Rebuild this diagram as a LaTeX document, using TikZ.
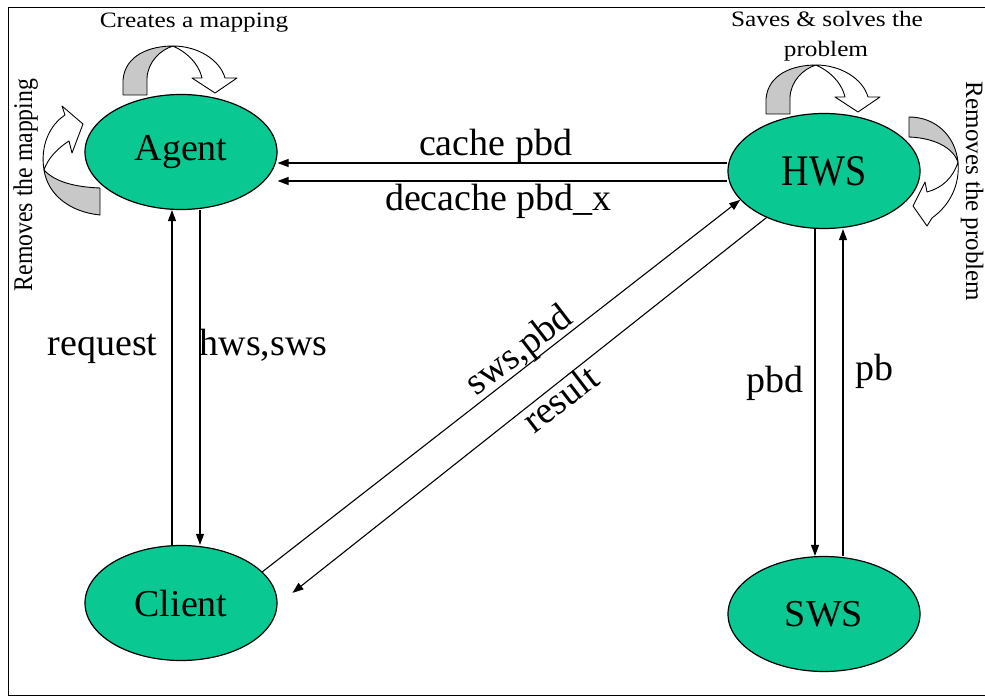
\documentclass[tikz,border=0pt]{standalone}
\usepackage{graphicx}
\usepackage{fontspec}
\setmainfont{Liberation Serif}
\newfontfamily\smallfont[FakeStretch=1.15]{Liberation Serif}
\newfontfamily\sidefont[FakeStretch=0.88]{Liberation Serif}
\usetikzlibrary{arrows.meta,shapes.geometric}
\definecolor{nodegreen}{RGB}{10,200,145}
\definecolor{arrowgray}{RGB}{200,200,200}
\begin{document}
\begin{tikzpicture}[x=1pt,y=-1pt,
  state/.style={ellipse, draw=black, line width=1.2pt, fill=nodegreen, minimum width=192pt, minimum height=115pt, inner sep=0pt, font=\fontsize{38}{40}\selectfont},
  conn/.style={line width=1.1pt, -{Triangle[length=11pt,width=8pt]}},
  lbl/.style={font=\fontsize{38}{40}\selectfont, inner sep=0pt},
  note/.style={font=\smallfont\fontsize{22}{30}\selectfont, inner sep=0pt},
  grayface/.style={fill=arrowgray, draw=black, line width=0.9pt, line join=round},
  whiteface/.style={fill=white, draw=black, line width=0.9pt, line join=round},
  toparrow/.pic={
    \path[grayface] (-57,25) -- (-57,10) .. controls (-55,-15) and (-30,-24) .. (-7,-24) .. controls (-20,-20) and (-32,-8) .. (-33,8) -- (-33,25) -- cycle;
    \path[whiteface] (-7,-24) .. controls (18,-24) and (40,-10) .. (45,8) -- (57,8) -- (35,23) -- (12,8) -- (22,8) .. controls (18,-8) and (6,-18) .. (-7,-24) -- cycle;
  }]
\useasboundingbox (0,0) rectangle (985,698);
\fill[white] (0,0) rectangle (985,698);
\draw[line width=1pt] (8,8) rectangle (985,695.5);

% nodes
\node[state] (Agent) at (181,152) {Agent};
\node[state] (HWS) at (824,171) {\scalebox{1}[1.15]{HWS}};
\node[state] (Client) at (181,603) {Client};
\node[state] (SWS) at (824,614) {SWS};

% connectors
\draw[conn] ([yshift=8pt]HWS.west) -- ([yshift=-11pt]Agent.east);
\draw[conn] ([yshift=-10pt]HWS.west) -- ([yshift=-29pt]Agent.east);
\draw[conn] ([xshift=-9pt]Client.north) -- ([xshift=-9pt]Agent.south);
\draw[conn] ([xshift=19pt]Agent.south) -- ([xshift=19pt]Client.north);
\draw[conn] ([xshift=-9pt]HWS.south) -- ([xshift=-9pt]SWS.north);
\draw[conn] ([xshift=19pt]SWS.north) -- ([xshift=19pt]HWS.south);
\draw[conn] (Client.21.9) -- (HWS.199.7);
\draw[conn, shorten >=19pt] (HWS.219.5) -- (Client.-1.2);

% connector labels
\node[lbl, anchor=base] (lcache) at (495.5,155) {cache pbd};
\node[lbl, anchor=base] (ldecache) at (498.5,210) {decache pbd\_x};
\node[lbl, anchor=base] (lreq) at (102.5,355) {request};
\node[lbl, anchor=base] (lhws) at (263.5,355) {hws,sws};
\node[lbl, anchor=base] (lpbd) at (774.5,392) {pbd};
\node[lbl, anchor=base] (lpb) at (874,380) {pb};
\node[lbl, rotate=37.5] (lsws) at (520,352) {sws,pbd};
\node[lbl, rotate=37.5] (lres) at (560,398) {result};

% loop arrows
\pic (agentloop) at (180,70) {toparrow};
\pic (hwsloop) at (823,89) {toparrow};
\path[grayface] (44,170) .. controls (48,195) and (70,212) .. (100,215) -- (100,188) .. controls (75,187) and (55,182) .. (44,170) -- cycle;
\path[whiteface] (44,170) .. controls (40,145) and (50,125) .. (65,115) -- (62,106) -- (83,124) -- (72,153) -- (69,141) .. controls (58,148) and (48,158) .. (44,170) -- cycle;
\path[grayface] (909,117) .. controls (935,117) and (955,135) .. (958,162) .. controls (953,148) and (935,138) .. (909,137) -- cycle;
\path[whiteface] (958,162) .. controls (960,185) and (950,205) .. (932,218) -- (927,226) -- (913,206) -- (925,182) -- (927,192) .. controls (942,188) and (953,178) .. (958,162) -- cycle;

% notes
\node[note, anchor=base] (ncreate) at (194,28) {Creates a mapping};
\node[note, anchor=base] (nsaves) at (827,27) {Saves \& solves the};
\node[note, anchor=base] (nprob) at (826,57) {problem};
\node[font=\sidefont\fontsize{27}{30}\selectfont, inner sep=0pt, rotate=90, anchor=base] (nremmap) at (32,185) {Removes the mapping};
\node[font=\fontsize{25}{30}\selectfont, inner sep=0pt, rotate=-90, anchor=base] (nremprob) at (966,191.5) {Removes the problem};
\end{tikzpicture}
\end{document}
